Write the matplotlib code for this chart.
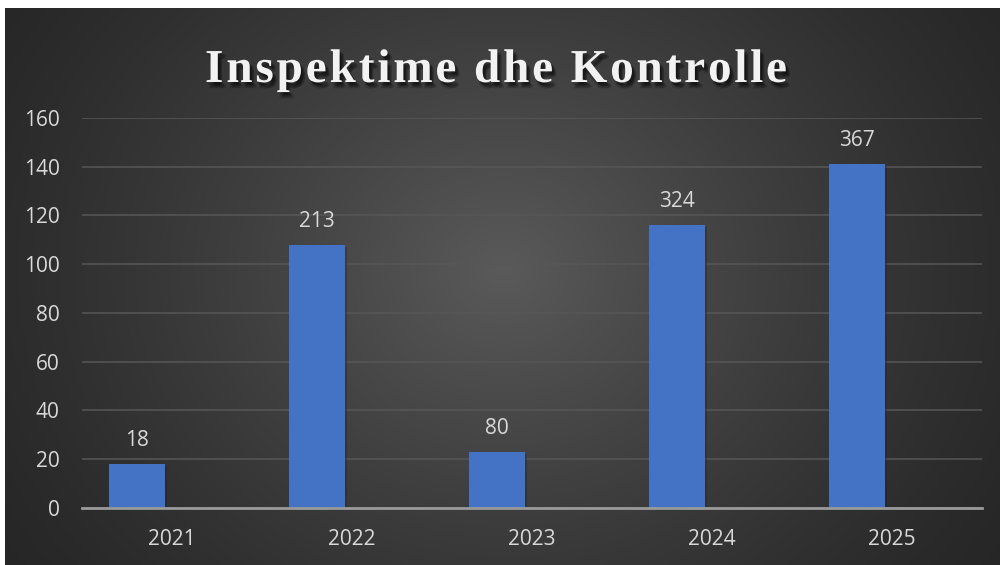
import numpy as np
import matplotlib
matplotlib.use("Agg")
import matplotlib.pyplot as plt
import matplotlib.patheffects as pe

# ---- data ----
years = ["2021", "2022", "2023", "2024", "2025"]
bar_values = [18, 108, 23, 116, 141]
label_values = [18, 213, 80, 324, 367]
second_series = [0, 0, 0, 0, 0]
title = "Inspektime dhe Kontrolle"
yticks = [0, 20, 40, 60, 80, 100, 120, 140, 160]

W, H = 1000, 565
fig = plt.figure(figsize=(W / 100, H / 100), dpi=100, facecolor="white")

# background panel with radial gradient
bg = fig.add_axes([5 / W, 0, 995 / W, 557 / H])
bg.set_axis_off()
ny, nx = 300, 540
yy, xx = np.mgrid[0:ny, 0:nx]
cx, cy = nx * 0.50, ny * 0.47
r = np.sqrt(((xx - cx) / (nx * 0.62)) ** 2 + ((yy - cy) / (ny * 0.95)) ** 2)
r = np.clip(r, 0, 1)
inner, outer = 0x5a / 255, 0x26 / 255
val = outer + (inner - outer) * (1 - r) ** 1.3
img = np.dstack([val, val, val])
bg.imshow(img, aspect="auto", extent=[0, 1, 0, 1], interpolation="bicubic")
bg.set_xlim(0, 1)
bg.set_ylim(0, 1)

# main axes
ax = fig.add_axes([82 / W, (H - 507.7) / H, 900 / W, (507.7 - 118) / H])
ax.set_facecolor("none")
x = np.arange(len(years))
bw = 0.308
off = 0.194
ax.bar(x - off, bar_values, width=bw, color="#4472C4", zorder=3,
       path_effects=[pe.SimplePatchShadow(offset=(1.5, -1.5), alpha=0.35),
                     pe.Normal()])
ax.bar(x + off, second_series, width=bw, color="#ED7D31", zorder=3)

for xi, v, lab in zip(x, bar_values, label_values):
    ax.annotate(str(lab), (xi - off, v), xytext=(0, 17), textcoords="offset points",
                ha="center", va="center", fontsize=15, color="#d9d9d9",
                family="Open Sans")

ax.set_xlim(-0.5, len(years) - 0.5)
ax.set_ylim(0, 160)
ax.set_yticks(yticks)
ax.set_yticklabels([str(t) for t in yticks])
ax.set_xticks(x)
ax.set_xticklabels(years)
ax.tick_params(axis="both", length=0, labelsize=15, labelcolor="#d9d9d9")
ax.tick_params(axis="y", pad=16)
ax.tick_params(axis="x", pad=15)
for lbl in ax.get_xticklabels() + ax.get_yticklabels():
    lbl.set_family("Open Sans")
ax.grid(axis="y", color="#575757", linewidth=1.1, zorder=0)
ax.set_axisbelow(True)
for s in ["top", "right", "left"]:
    ax.spines[s].set_visible(False)
ax.spines["bottom"].set_color("#9a9a9a")
ax.spines["bottom"].set_linewidth(2)
ax.spines["bottom"].set_zorder(4)

# title with letter spacing, drawn character by character
renderer = fig.canvas.get_renderer()
shadow = [pe.SimplePatchShadow(offset=(dx, dy), shadow_rgbFace="black", alpha=0.14)
          for dx, dy in [(1, -2), (2, -3), (3, -4), (2, -2), (3, -3), (1.5, -4.5)]]
tprops = dict(fontsize=34, fontweight="bold", family="Liberation Serif",
              color="#f2f2f2", va="baseline", ha="left",
              path_effects=shadow + [pe.Normal()])

def adv(ch):
    if ch == " ":
        t = fig.text(0, 0, "a a", **tprops)
        w = t.get_window_extent(renderer).width
        t.remove()
        t2 = fig.text(0, 0, "aa", **tprops)
        w2 = t2.get_window_extent(renderer).width
        t2.remove()
        return w - w2
    t = fig.text(0, 0, ch, **tprops)
    w = t.get_window_extent(renderer).width
    t.remove()
    return w

widths = [adv(c) for c in title]
target_left, target_right = 205, 787
spacing = (target_right - target_left - sum(widths)) / (len(title) - 1)
px = target_left
baseline = (H - 82) / H
for c, w in zip(title, widths):
    if c != " ":
        fig.text(px / W, baseline, c, **tprops)
    px += w + spacing

fig.savefig("out.png", dpi=100, facecolor="white")
